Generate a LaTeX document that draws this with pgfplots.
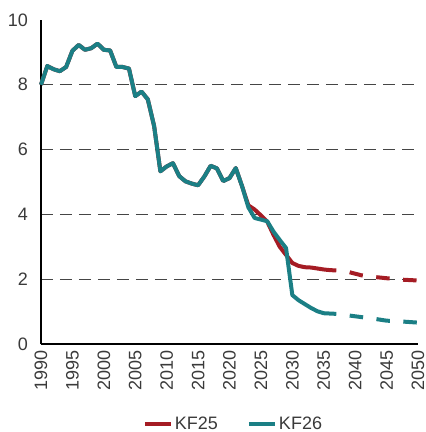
\documentclass[border=0pt]{standalone}
\usepackage{pgfplots}
\pgfplotsset{compat=1.18}
\usepackage{fontspec}
\setmainfont{Liberation Sans}
\definecolor{kfred}{HTML}{A51C24}
\definecolor{kfteal}{HTML}{1B7F85}
\definecolor{txt}{HTML}{3A3A3A}
\definecolor{gridc}{HTML}{454545}
\pgfplotstableread{
year val
1990 8.00
1991 8.58
1992 8.48
1993 8.42
1994 8.55
1995 9.05
1996 9.23
1997 9.08
1998 9.13
1999 9.27
2000 9.08
2001 9.06
2002 8.55
2003 8.55
2004 8.50
2005 7.65
2006 7.79
2007 7.55
2008 6.73
2009 5.33
2010 5.48
2011 5.58
2012 5.18
2013 5.02
2014 4.95
2015 4.90
2016 5.17
2017 5.50
2018 5.42
2019 5.03
2020 5.12
2021 5.43
2022 4.87
2023 4.28
2024 4.15
2025 3.97
2026 3.78
2027 3.37
2028 3.00
2029 2.75
2030 2.50
2031 2.41
2032 2.37
2033 2.36
2034 2.33
2035 2.30
2036 2.28
2037 2.27
}\kfA
\pgfplotstableread{
year val
1990 8.00
1991 8.58
1992 8.48
1993 8.42
1994 8.55
1995 9.05
1996 9.23
1997 9.08
1998 9.13
1999 9.27
2000 9.08
2001 9.06
2002 8.55
2003 8.55
2004 8.50
2005 7.65
2006 7.79
2007 7.55
2008 6.73
2009 5.33
2010 5.48
2011 5.58
2012 5.18
2013 5.02
2014 4.95
2015 4.90
2016 5.17
2017 5.50
2018 5.42
2019 5.03
2020 5.12
2021 5.43
2022 4.87
2023 4.22
2024 3.89
2025 3.84
2026 3.79
2027 3.47
2028 3.21
2029 2.96
2030 1.51
2031 1.35
2032 1.23
2033 1.11
2034 1.01
2035 0.95
2036 0.94
2037 0.93
}\kfB
\pgfplotstableread{
year val
2037 2.27
2039 2.22
2041 2.12
2043 2.07
2045 2.03
2047 1.99
2050 1.96
}\kfAp
\pgfplotstableread{
year val
2037 0.93
2039 0.88
2041 0.83
2043 0.78
2045 0.72
2047 0.70
2050 0.66
}\kfBp
\begin{document}
\begin{tikzpicture}[x=1pt,y=1pt]
\useasboundingbox (-41,-88) rectangle (385,344);
\begin{axis}[
  at={(0,0)}, anchor=south west,
  scale only axis, width=377pt, height=324pt,
  xmin=1990, xmax=2050, ymin=0, ymax=10,
  clip=false,
  axis x line*=bottom, axis y line*=left,
  axis line style={-, line width=1.6pt, black},
  major tick length=0pt,
  xtick={1990,1995,...,2050},
  ytick={2,4,6,8},
  extra y ticks={0,10},
  extra y tick style={grid=none},
  ymajorgrids,
  major grid style={gridc, line width=1.3pt, dash pattern=on 12pt off 7pt},
  /pgf/number format/assume math mode=true,
  /pgf/number format/1000 sep={},
  tick label style={font=\fontsize{18}{20}\selectfont, text=txt},
  xticklabel style={rotate=90, anchor=east, inner sep=0pt, xshift=-6pt},
  yticklabel style={anchor=east, inner sep=0pt, xshift=-13pt},
  legend style={draw=none, fill=none, at={(0.5,0)}, anchor=center, yshift=-80pt, xshift=4pt,
    font=\fontsize{18}{20}\selectfont, text=txt, legend columns=2,
    /tikz/every even column/.append style={column sep=27pt}},
  legend image code/.code={\draw[line width=4pt] (0pt,0pt) -- (26pt,0pt);},
  every axis plot/.append style={line width=4pt, line join=round},
]
\addplot[kfred] table[x=year,y=val] {\kfA};
\addlegendentry{KF25}
\addplot[kfred, forget plot, dash pattern=on 13.5pt off 13.5pt, dash phase=13.5pt] table[x=year,y=val] {\kfAp};
\addplot[kfteal] table[x=year,y=val] {\kfB};
\addlegendentry{KF26}
\addplot[kfteal, forget plot, dash pattern=on 13.5pt off 13.5pt, dash phase=13.5pt] table[x=year,y=val] {\kfBp};
\end{axis}
\end{tikzpicture}
\end{document}
